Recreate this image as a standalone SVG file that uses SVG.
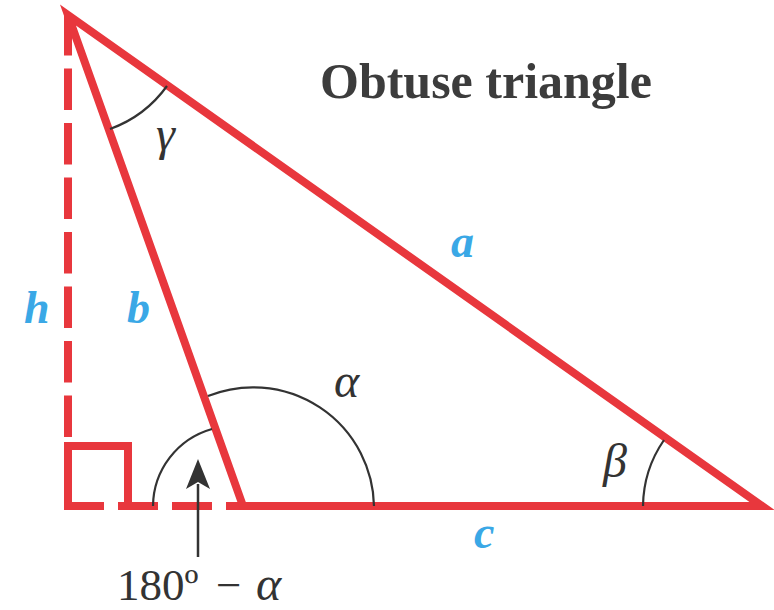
<svg xmlns="http://www.w3.org/2000/svg" width="774" height="610" viewBox="0 0 774 610">
<defs>
<style>
.red{fill:none;stroke:#e8373d;stroke-width:8}
.dash{fill:none;stroke:#e8373d;stroke-width:8}
.arc{fill:none;stroke:#333;stroke-width:2.2}
.lbl{font-family:"Liberation Serif",serif;font-style:italic;font-weight:bold;fill:#3aa8e6;font-size:46px}
.greek{font-family:"Liberation Serif",serif;font-style:italic;fill:#333;font-size:48px}
.title{font-family:"Liberation Serif",serif;font-weight:bold;fill:#3c3c3c;font-size:50px}
.num{font-family:"Liberation Serif",serif;fill:#333;font-size:45px}
</style>
</defs>
<rect width="774" height="610" fill="#fff"/>
<g id="connectors">
<line class="dash" x1="68" y1="14" x2="68" y2="446" stroke-dasharray="41.5 13"/>
<line class="dash" x1="64" y1="506" x2="243" y2="506" stroke-dasharray="40 14"/>
<path class="red" stroke-width="7" d="M68 506 V446 H128 V506"/>
<path class="red" stroke-miterlimit="20" d="M243 506 L68 15 L762 506 Z"/>
<path class="arc" d="M374 506 A121 121 0 0 0 208 396"/>
<path class="arc" d="M153 506 A81 81 0 0 1 212 429"/>
<path class="arc" d="M110 129 A121 121 0 0 0 167 86"/>
<path class="arc" d="M643 506 A119 119 0 0 1 664 440"/>
<line x1="198" y1="557" x2="198" y2="484" stroke="#333" stroke-width="2.5"/>
<polygon points="198,459 210,489 198,482 186,489" fill="#333"/>
</g>
<g id="title"><text class="title" x="320" y="98">Obtuse triangle</text></g>
<g id="label-a"><text class="lbl" x="451" y="257">a</text></g>
<g id="label-b"><text class="lbl" x="127" y="323">b</text></g>
<g id="label-h"><text class="lbl" x="24" y="323">h</text></g>
<g id="label-c"><text class="lbl" x="474" y="548">c</text></g>
<g id="label-alpha"><text class="greek" x="334" y="397">α</text></g>
<g id="label-beta"><text class="greek" x="603" y="477">β</text></g>
<g id="label-gamma"><text class="greek" x="156" y="150">γ</text></g>
<g id="label-supp"><text class="num" x="117" y="600">180º<tspan x="216">−</tspan><tspan class="greek" x="256" font-size="47">α</tspan></text></g>
</svg>
